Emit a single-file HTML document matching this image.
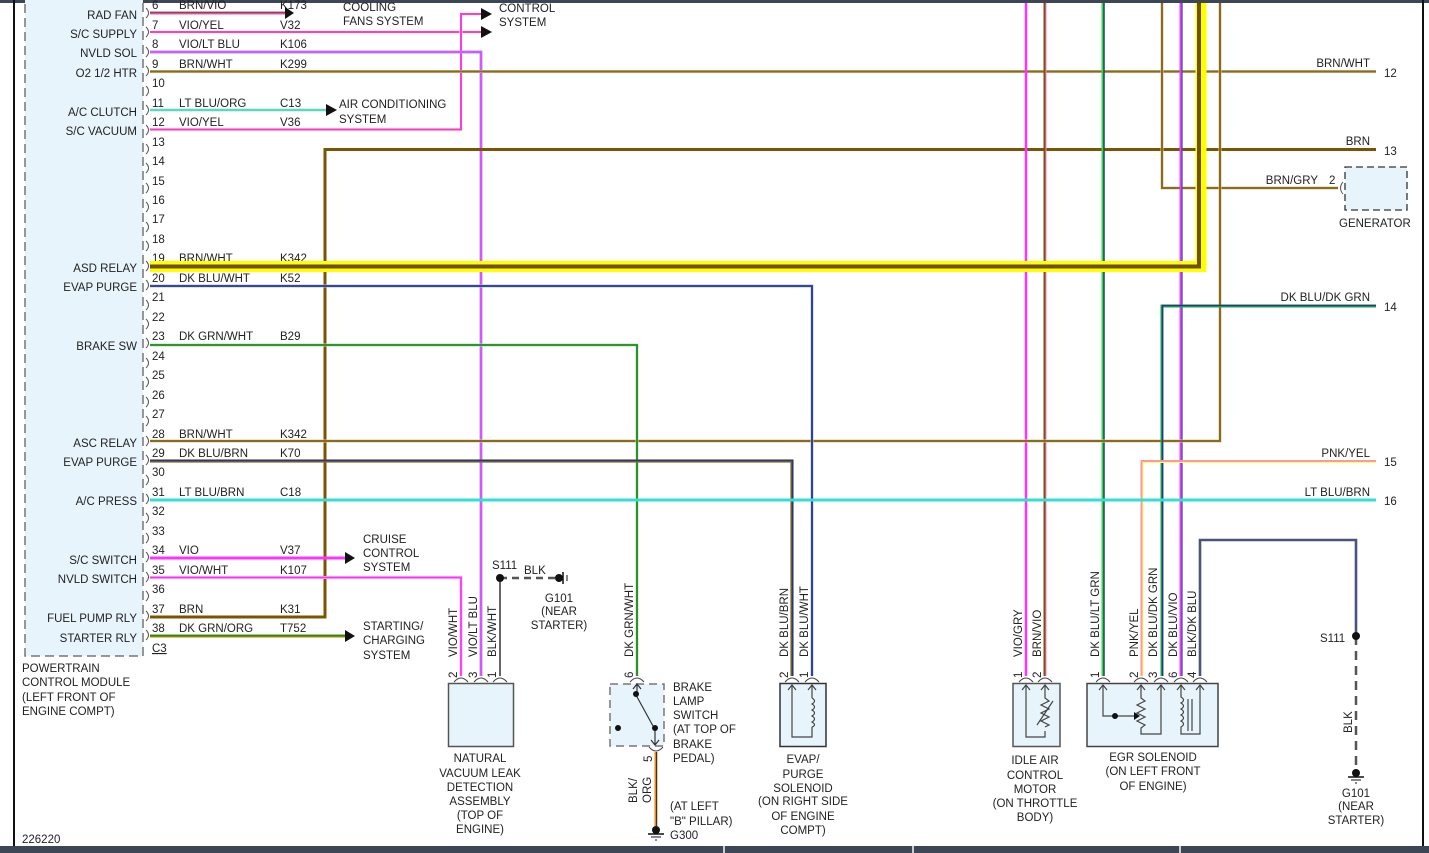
<!DOCTYPE html>
<html><head><meta charset="utf-8"><style>
html,body{margin:0;padding:0;background:#fff;}
svg{display:block;font-family:"Liberation Sans",sans-serif;font-size:11.5px;fill:#222;}
text{fill:#222;}
</style></head><body>
<svg width="1429" height="853" viewBox="0 0 1429 853" xmlns="http://www.w3.org/2000/svg">
<rect x="0" y="0" width="1429" height="3" fill="#3d4654"/>
<rect x="0" y="846" width="1429" height="7" fill="#3d4654"/>
<line x1="724" y1="846" x2="724" y2="853" stroke="#ccc" stroke-width="2"/>
<line x1="913" y1="846" x2="913" y2="853" stroke="#ccc" stroke-width="2"/>
<line x1="1180" y1="846" x2="1180" y2="853" stroke="#ccc" stroke-width="2"/>
<line x1="14" y1="0" x2="14" y2="846" stroke="#111" stroke-width="2"/>
<line x1="1423" y1="0" x2="1423" y2="846" stroke="#111" stroke-width="2"/>

<!-- PCM box -->
<rect x="25" y="-5" width="118" height="661" fill="#e8f4fc" stroke="#777" stroke-width="1.5" stroke-dasharray="9,5"/>
<g fill="none" stroke="#555" stroke-width="1">
<path d="M146,8 q5,5 0,10"/><path d="M146,27 q5,5 0,10"/><path d="M146,47 q5,5 0,10"/><path d="M146,66 q5,5 0,10"/><path d="M146,86 q5,5 0,10"/><path d="M146,105 q5,5 0,10"/><path d="M146,125 q5,5 0,10"/><path d="M146,144 q5,5 0,10"/><path d="M146,163 q5,5 0,10"/><path d="M146,183 q5,5 0,10"/><path d="M146,202 q5,5 0,10"/><path d="M146,222 q5,5 0,10"/><path d="M146,241 q5,5 0,10"/><path d="M146,261 q5,5 0,10"/><path d="M146,280 q5,5 0,10"/><path d="M146,300 q5,5 0,10"/><path d="M146,319 q5,5 0,10"/><path d="M146,338 q5,5 0,10"/><path d="M146,358 q5,5 0,10"/><path d="M146,377 q5,5 0,10"/><path d="M146,397 q5,5 0,10"/><path d="M146,416 q5,5 0,10"/><path d="M146,436 q5,5 0,10"/><path d="M146,455 q5,5 0,10"/><path d="M146,475 q5,5 0,10"/><path d="M146,494 q5,5 0,10"/><path d="M146,513 q5,5 0,10"/><path d="M146,533 q5,5 0,10"/><path d="M146,552 q5,5 0,10"/><path d="M146,572 q5,5 0,10"/><path d="M146,591 q5,5 0,10"/><path d="M146,611 q5,5 0,10"/><path d="M146,630 q5,5 0,10"/>
</g>
<g>
<text x="152" y="9">6</text><text x="152" y="29">7</text><text x="152" y="48">8</text><text x="152" y="68">9</text><text x="152" y="87">10</text><text x="152" y="107">11</text><text x="152" y="126">12</text><text x="152" y="146">13</text><text x="152" y="165">14</text><text x="152" y="185">15</text><text x="152" y="204">16</text><text x="152" y="223">17</text><text x="152" y="243">18</text><text x="152" y="262">19</text><text x="152" y="282">20</text><text x="152" y="301">21</text><text x="152" y="321">22</text><text x="152" y="340">23</text><text x="152" y="360">24</text><text x="152" y="379">25</text><text x="152" y="399">26</text><text x="152" y="418">27</text><text x="152" y="438">28</text><text x="152" y="457">29</text><text x="152" y="476">30</text><text x="152" y="496">31</text><text x="152" y="515">32</text><text x="152" y="535">33</text><text x="152" y="554">34</text><text x="152" y="574">35</text><text x="152" y="593">36</text><text x="152" y="613">37</text><text x="152" y="632">38</text>
<text x="152" y="652" text-decoration="underline">C3</text>
</g>
<g text-anchor="end">
<text x="137" y="19">RAD FAN</text><text x="137" y="38">S/C SUPPLY</text><text x="137" y="57">NVLD SOL</text><text x="137" y="77">O2 1/2 HTR</text><text x="137" y="116">A/C CLUTCH</text><text x="137" y="135">S/C VACUUM</text><text x="137" y="272">ASD RELAY</text><text x="137" y="291">EVAP PURGE</text><text x="137" y="350">BRAKE SW</text><text x="137" y="447">ASC RELAY</text><text x="137" y="466">EVAP PURGE</text><text x="137" y="505">A/C PRESS</text><text x="137" y="564">S/C SWITCH</text><text x="137" y="583">NVLD SWITCH</text><text x="137" y="622">FUEL PUMP RLY</text><text x="137" y="642">STARTER RLY</text>
</g>
<g>
<text x="179" y="9">BRN/VIO</text><text x="280" y="9">K173</text>
<text x="179" y="29">VIO/YEL</text><text x="280" y="29">V32</text>
<text x="179" y="48">VIO/LT BLU</text><text x="280" y="48">K106</text>
<text x="179" y="68">BRN/WHT</text><text x="280" y="68">K299</text>
<text x="179" y="107">LT BLU/ORG</text><text x="280" y="107">C13</text>
<text x="179" y="126">VIO/YEL</text><text x="280" y="126">V36</text>
<text x="179" y="262">BRN/WHT</text><text x="280" y="262">K342</text>
<text x="179" y="282">DK BLU/WHT</text><text x="280" y="282">K52</text>
<text x="179" y="340">DK GRN/WHT</text><text x="280" y="340">B29</text>
<text x="179" y="438">BRN/WHT</text><text x="280" y="438">K342</text>
<text x="179" y="457">DK BLU/BRN</text><text x="280" y="457">K70</text>
<text x="179" y="496">LT BLU/BRN</text><text x="280" y="496">C18</text>
<text x="179" y="554">VIO</text><text x="280" y="554">V37</text>
<text x="179" y="574">VIO/WHT</text><text x="280" y="574">K107</text>
<text x="179" y="613">BRN</text><text x="280" y="613">K31</text>
<text x="179" y="632">DK GRN/ORG</text><text x="280" y="632">T752</text>
</g>
<text x="22" y="672">POWERTRAIN</text><text x="22" y="686">CONTROL MODULE</text><text x="22" y="701">(LEFT FRONT OF</text><text x="22" y="715">ENGINE COMPT)</text>
<text x="22" y="843">226220</text>

<!-- wires -->
<g fill="none" stroke-linejoin="miter">
<!-- 6 BRN/VIO -->
<polyline points="150,13 286,13" stroke="#ff44ff" stroke-width="3"/><polyline points="150,12.5 286,12.5" stroke="#7a5a10" stroke-width="1.6"/>
<!-- 7 VIO/YEL -->
<polyline points="150,32 482,32" stroke="#ffff66" stroke-width="3"/><polyline points="150,32 482,32" stroke="#ff33ff" stroke-width="2"/>
<!-- 12 VIO/YEL -->
<polyline points="150,129.5 461,129.5 461,14 482,14" stroke="#ffff66" stroke-width="3"/><polyline points="150,129.5 461,129.5 461,14 482,14" stroke="#ff33ff" stroke-width="2"/>
<!-- 8 VIO/LT BLU -->
<polyline points="150,52 481,52 481,676" stroke="#88aaff" stroke-width="3"/><polyline points="150,52 481,52 481,676" stroke="#ff33ff" stroke-width="1.5"/>
<!-- 9 BRN/WHT -->
<polyline points="150,71.5 1376,71.5" stroke="#d8c8a0" stroke-width="3"/><polyline points="150,71.5 1376,71.5" stroke="#8a6a1e" stroke-width="2"/>
<!-- 11 LT BLU/ORG -->
<polyline points="150,110 328,110" stroke="#ffcc88" stroke-width="3"/><polyline points="150,110 328,110" stroke="#33e6e6" stroke-width="2"/>
<!-- 13 / 37 BRN -->
<polyline points="150,617 325,617 325,149.5 1376,149.5" stroke="#7a5400" stroke-width="3"/>
<!-- vertical right wires -->
<polyline points="1026,3 1026,676" stroke="#ff33ff" stroke-width="2.5"/>
<polyline points="1045,3 1045,676" stroke="#ff77ff" stroke-width="3"/><polyline points="1044.5,3 1044.5,676" stroke="#7a5400" stroke-width="2"/>
<polyline points="1103,3 1103,676" stroke="#33dd33" stroke-width="3"/><polyline points="1104,3 1104,676" stroke="#1f3a8a" stroke-width="1.5"/>
<polyline points="1162,3 1162,188 1338,188" stroke="#d8c8a0" stroke-width="3"/><polyline points="1162,3 1162,188 1338,188" stroke="#8a6a1e" stroke-width="2"/>
<polyline points="1181,3 1181,676" stroke="#ff33ff" stroke-width="3"/><polyline points="1182,3 1182,676" stroke="#3355bb" stroke-width="1.3"/>
<polyline points="150,441 1220,441 1220,3" stroke="#d8c8a0" stroke-width="3"/><polyline points="150,441 1220,441 1220,3" stroke="#8a6a1e" stroke-width="2"/>
<!-- DK BLU/DK GRN -->
<polyline points="1376,306 1162,306 1162,676" stroke="#22aa44" stroke-width="3"/><polyline points="1376,305.5 1162.5,305.5 1162.5,676" stroke="#1f3a8a" stroke-width="1.5"/>
<!-- PNK/YEL -->
<polyline points="1376,461.5 1142,461.5 1142,676" stroke="#ffff77" stroke-width="3"/><polyline points="1376,461 1141.5,461 1141.5,676" stroke="#ff9999" stroke-width="2"/>
<!-- 20 DK BLU/WHT -->
<polyline points="150,286 812,286 812,676" stroke="#bbbbdd" stroke-width="3"/><polyline points="150,286 812,286 812,676" stroke="#1f3a8a" stroke-width="1.8"/>
<!-- 23 DK GRN/WHT -->
<polyline points="150,345 637,345 637,676" stroke="#bbddbb" stroke-width="3"/><polyline points="150,345 637,345 637,676" stroke="#1a8a1a" stroke-width="1.8"/>
<!-- 29 DK BLU/BRN -->
<polyline points="150,461 792,461 792,676" stroke="#8a6a1e" stroke-width="3.2"/><polyline points="150,460.5 792.5,460.5 792.5,676" stroke="#1f3a8a" stroke-width="1.6"/>
<!-- 31 LT BLU/BRN -->
<polyline points="150,500 1376,500" stroke="#33e0d0" stroke-width="3"/>
<!-- 34 VIO -->
<polyline points="150,558 346,558" stroke="#ff33ff" stroke-width="3"/>
<!-- 35 VIO/WHT -->
<polyline points="150,577.5 461,577.5 461,676" stroke="#ffbbff" stroke-width="3"/><polyline points="150,577.5 461,577.5 461,676" stroke="#ff33ff" stroke-width="1.8"/>
<!-- 38 DK GRN/ORG -->
<polyline points="150,636 346,636" stroke="#aa8800" stroke-width="3"/><polyline points="150,635.5 346,635.5" stroke="#1a8a1a" stroke-width="1.6"/>
<!-- ASD yellow -->
<polyline points="150,266.5 1201,266.5 1201,3" stroke="#ffff00" stroke-width="11"/>
<polyline points="150,266.5 1199,266.5 1199,3" stroke="#6e5000" stroke-width="4"/>
<!-- BLK/DK BLU to S111 -->
<polyline points="1200,676 1200,540 1356,540 1356,636" stroke="#3355bb" stroke-width="2.6"/><polyline points="1200,676 1200,540 1356,540 1356,636" stroke="#555" stroke-width="1.6"/>
<line x1="1356" y1="636" x2="1356" y2="772" stroke="#555" stroke-width="2.5" stroke-dasharray="9,6"/>
<!-- BLK/WHT -->
<line x1="500" y1="578" x2="500" y2="676" stroke="#666" stroke-width="2"/>
<line x1="500" y1="578" x2="560" y2="578" stroke="#555" stroke-width="2.5" stroke-dasharray="7,5"/>
<!-- BLK/ORG -->
<line x1="656" y1="752" x2="656" y2="826" stroke="#e08a20" stroke-width="3"/><line x1="656.5" y1="752" x2="656.5" y2="826" stroke="#333" stroke-width="1"/>
</g>
<!-- arrows -->
<g fill="#111">
<path d="M285,7 L294,13 L285,19Z"/><path d="M481,26 L492,32 L481,38Z"/><path d="M481,8 L492,14 L481,20Z"/>
<path d="M326,104 L337,110 L326,116Z"/><path d="M345,552 L355,558 L345,564Z"/><path d="M345,630 L355,636 L345,642Z"/>
</g>
<text x="343" y="11">COOLING</text><text x="343" y="25">FANS SYSTEM</text>
<text x="499" y="12">CONTROL</text><text x="499" y="26">SYSTEM</text>
<text x="339" y="108">AIR CONDITIONING</text><text x="339" y="123">SYSTEM</text>
<text x="363" y="543">CRUISE</text><text x="363" y="557">CONTROL</text><text x="363" y="571">SYSTEM</text>
<text x="363" y="630">STARTING/</text><text x="363" y="644">CHARGING</text><text x="363" y="659">SYSTEM</text>

<!-- right edge labels -->
<g text-anchor="end"><text x="1370" y="67">BRN/WHT</text><text x="1370" y="145">BRN</text><text x="1318" y="184">BRN/GRY</text><text x="1370" y="301">DK BLU/DK GRN</text><text x="1370" y="457">PNK/YEL</text><text x="1370" y="496">LT BLU/BRN</text></g>
<text x="1384" y="77">12</text><text x="1384" y="155">13</text><text x="1384" y="311">14</text><text x="1384" y="466">15</text><text x="1384" y="505">16</text>
<text x="1329" y="184">2</text>
<path d="M1343,182 q-5,6 0,12" fill="none" stroke="#555"/>
<rect x="1345" y="167" width="62" height="43" fill="#e8f4fc" stroke="#333" stroke-width="1.3" stroke-dasharray="7,4"/>
<text x="1339" y="227">GENERATOR</text>

<!-- S111 / G101 left -->
<circle cx="500" cy="578" r="4" fill="#111"/>
<text x="492" y="569">S111</text><text x="524" y="574">BLK</text>
<circle cx="559" cy="578" r="4" fill="#111"/><line x1="563" y1="572" x2="563" y2="584" stroke="#111" stroke-width="1.5"/><line x1="567" y1="575" x2="567" y2="581" stroke="#111"/>
<g text-anchor="middle"><text x="559" y="602">G101</text><text x="559" y="615">(NEAR</text><text x="559" y="629">STARTER)</text></g>

<!-- connector pin marks -->
<g fill="none" stroke="#444" stroke-width="1">
<path d="M454,682 q7,-8 14,0"/><path d="M474,682 q7,-8 14,0"/><path d="M493,682 q7,-8 14,0"/>
<path d="M630,682 q7,-8 14,0"/><path d="M649,747 q7,8 14,0"/>
<path d="M785,682 q7,-8 14,0"/><path d="M805,682 q7,-8 14,0"/>
<path d="M1019,682 q7,-8 14,0"/><path d="M1038,682 q7,-8 14,0"/>
<path d="M1096,682 q7,-8 14,0"/><path d="M1134,682 q7,-8 14,0"/><path d="M1154,682 q7,-8 14,0"/><path d="M1174,682 q7,-8 14,0"/><path d="M1193,682 q7,-8 14,0"/>
</g>
<!-- rotated labels -->
<g>
<text transform="translate(457,657) rotate(-90)">VIO/WHT</text>
<text transform="translate(477,657) rotate(-90)">VIO/LT BLU</text>
<text transform="translate(496,657) rotate(-90)">BLK/WHT</text>
<text transform="translate(457,678) rotate(-90)">2</text><text transform="translate(477,678) rotate(-90)">3</text><text transform="translate(496,678) rotate(-90)">1</text>
<text transform="translate(633,657) rotate(-90)">DK GRN/WHT</text><text transform="translate(633,678) rotate(-90)">6</text>
<text transform="translate(652,762) rotate(-90)">5</text>
<text transform="translate(637,803) rotate(-90)">BLK/</text><text transform="translate(651,803) rotate(-90)">ORG</text>
<text transform="translate(788,657) rotate(-90)">DK BLU/BRN</text><text transform="translate(808,657) rotate(-90)">DK BLU/WHT</text>
<text transform="translate(788,678) rotate(-90)">2</text><text transform="translate(808,678) rotate(-90)">1</text>
<text transform="translate(1022,657) rotate(-90)">VIO/GRY</text><text transform="translate(1041,657) rotate(-90)">BRN/VIO</text>
<text transform="translate(1022,678) rotate(-90)">1</text><text transform="translate(1041,678) rotate(-90)">2</text>
<text transform="translate(1099,657) rotate(-90)">DK BLU/LT GRN</text>
<text transform="translate(1138,657) rotate(-90)">PNK/YEL</text>
<text transform="translate(1157,657) rotate(-90)">DK BLU/DK GRN</text>
<text transform="translate(1177,657) rotate(-90)">DK BLU/VIO</text>
<text transform="translate(1196,657) rotate(-90)">BLK/DK BLU</text>
<text transform="translate(1099,678) rotate(-90)">1</text><text transform="translate(1138,678) rotate(-90)">2</text><text transform="translate(1157,678) rotate(-90)">3</text><text transform="translate(1177,678) rotate(-90)">6</text><text transform="translate(1196,678) rotate(-90)">4</text>
<text transform="translate(1352,733) rotate(-90)">BLK</text>
</g>

<!-- NVLD box -->
<rect x="448.5" y="683.5" width="65" height="63" fill="#e8f4fc" stroke="#555" stroke-width="1.5"/>
<g text-anchor="middle"><text x="480" y="762">NATURAL</text><text x="480" y="777">VACUUM LEAK</text><text x="480" y="791">DETECTION</text><text x="480" y="805">ASSEMBLY</text><text x="480" y="819">(TOP OF</text><text x="480" y="833">ENGINE)</text></g>

<!-- brake switch -->
<rect x="610" y="684" width="54" height="62" fill="#e8f4fc" stroke="#777" stroke-width="1.5" stroke-dasharray="8,5"/>
<g stroke="#333" fill="none" stroke-width="1.2"><path d="M637,684 L637,693 M633,689 L637,684 L641,689"/><path d="M636,695 L653,726"/><path d="M655,728 L655,744 M651,740 L655,745 L659,740"/></g>
<circle cx="636" cy="694" r="3" fill="#111"/><circle cx="655" cy="728" r="3" fill="#111"/><circle cx="618" cy="728" r="3" fill="#111"/>
<text x="673" y="691">BRAKE</text><text x="673" y="705">LAMP</text><text x="673" y="719">SWITCH</text><text x="673" y="733">(AT TOP OF</text><text x="673" y="748">BRAKE</text><text x="673" y="762">PEDAL)</text>
<text x="670" y="810">(AT LEFT</text><text x="670" y="825">"B" PILLAR)</text><text x="670" y="839">G300</text>
<circle cx="656" cy="830" r="4" fill="#111"/><line x1="648" y1="834" x2="664" y2="834" stroke="#111" stroke-width="1.5"/><line x1="651" y1="837" x2="661" y2="837" stroke="#111"/><line x1="655" y1="840" x2="657" y2="840" stroke="#111"/>

<!-- EVAP solenoid -->
<rect x="780" y="683.5" width="46" height="63" fill="#e8f4fc" stroke="#333" stroke-width="1.5"/>
<g fill="none" stroke="#444" stroke-width="1.2"><path d="M792,686 L792,737 L812,737 L812,727 M812,686 L812,698"/><path d="M788,690 L792,685 L796,690 M808,690 L812,685 L816,690"/><path d="M812,698 q5,3 0,6 q5,3 0,6 q5,3 0,6 q5,3 0,6 q5,3 0,5"/></g>
<g text-anchor="middle"><text x="803" y="763">EVAP/</text><text x="803" y="778">PURGE</text><text x="803" y="792">SOLENOID</text><text x="803" y="805">(ON RIGHT SIDE</text><text x="803" y="820">OF ENGINE</text><text x="803" y="834">COMPT)</text></g>

<!-- IAC -->
<rect x="1013" y="683.5" width="47" height="63" fill="#e8f4fc" stroke="#555" stroke-width="1.5"/>
<g fill="none" stroke="#444" stroke-width="1.2"><path d="M1026,686 L1026,737 L1045,737 L1045,731 M1045,686 L1045,698 l4,3 -8,4 8,4 -8,4 8,4 -8,4 8,4 -4,2"/><path d="M1022,690 L1026,685 L1030,690 M1041,690 L1045,685 L1049,690"/><path d="M1037,725 L1053,701"/></g>
<g text-anchor="middle"><text x="1035" y="764">IDLE AIR</text><text x="1035" y="779">CONTROL</text><text x="1035" y="793">MOTOR</text><text x="1035" y="807">(ON THROTTLE</text><text x="1035" y="821">BODY)</text></g>

<!-- EGR -->
<rect x="1087" y="683.5" width="131" height="63" fill="#e8f4fc" stroke="#444" stroke-width="1.5"/>
<g fill="none" stroke="#444" stroke-width="1.2">
<path d="M1099,690 L1103,685 L1107,690 M1137,690 L1141,685 L1145,690 M1157,690 L1161,685 L1165,690 M1177,690 L1181,685 L1185,690 M1196,690 L1200,685 L1204,690"/>
<path d="M1103,686 L1103,716 L1135,716"/>
<path d="M1141,686 L1141,698 l4,3 -8,4 8,4 -8,4 8,4 -8,4 8,4 -4,3 L1141,734 L1161,734 L1161,686"/>
<path d="M1181,686 L1181,697 q5,3 0,6 q5,3 0,6 q5,3 0,6 q5,3 0,6 q5,3 0,6 L1181,734 L1200,734 L1200,686"/>
<path d="M1188,699 L1188,731 M1192,699 L1192,731"/>
</g>
<path d="M1134,712 L1140,716 L1134,720Z" fill="#111"/><circle cx="1115" cy="716" r="3" fill="#111"/>
<g text-anchor="middle"><text x="1153" y="761">EGR SOLENOID</text><text x="1153" y="775">(ON LEFT FRONT</text><text x="1153" y="790">OF ENGINE)</text></g>

<!-- S111 / G101 right -->
<circle cx="1356" cy="636" r="4" fill="#111"/><text x="1320" y="642">S111</text>
<circle cx="1356" cy="773" r="4" fill="#111"/><line x1="1348" y1="777" x2="1364" y2="777" stroke="#111" stroke-width="1.5"/><line x1="1351" y1="780" x2="1361" y2="780" stroke="#111"/><line x1="1355" y1="783" x2="1357" y2="783" stroke="#111"/>
<g text-anchor="middle"><text x="1356" y="797">G101</text><text x="1356" y="810">(NEAR</text><text x="1356" y="824">STARTER)</text></g>
</svg>
</body></html>
